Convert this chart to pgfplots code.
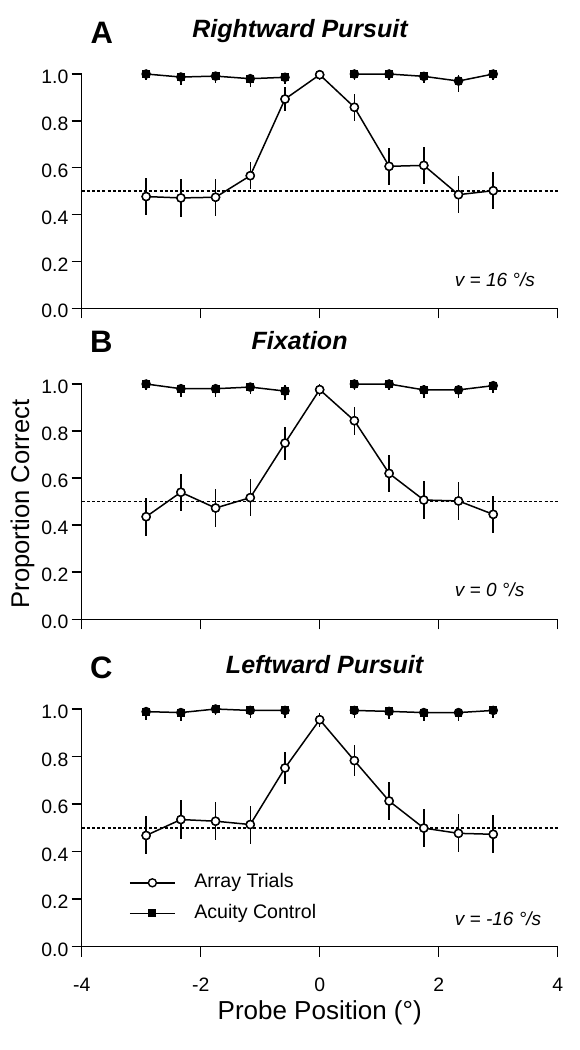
\documentclass[border=0pt]{standalone}
\usepackage{fontspec}
\setmainfont{Liberation Sans}
\usepackage{pgfplots}
\usepackage{pgfplotstable}
\pgfplotsset{compat=1.18}
% Panel A
\pgfplotstableread{
x y ep em
-2.917 0.477 0.078 0.078
-2.333 0.471 0.080 0.080
-1.75 0.474 0.078 0.078
-1.167 0.566 0.058 0.058
-0.583 0.893 0.050 0.050
0 0.997 0.003 0.022
0.583 0.858 0.058 0.058
1.167 0.606 0.078 0.078
1.75 0.610 0.078 0.078
2.333 0.485 0.080 0.080
2.917 0.502 0.080 0.080
}\arrA
\pgfplotstableread{
x y ep em
-2.917 1.000 0 0.026
-2.333 0.987 0.013 0.035
-1.75 0.991 0.009 0.030
-1.167 0.980 0.020 0.035
-0.583 0.986 0.014 0.030
}\acuAl
\pgfplotstableread{
x y ep em
0.583 1.000 0 0.026
1.167 1.000 0 0.026
1.75 0.990 0.010 0.030
2.333 0.970 0.025 0.045
2.917 1.000 0 0.026
}\acuAr
% Panel B
\pgfplotstableread{
x y ep em
-2.917 0.436 0.080 0.080
-2.333 0.540 0.078 0.078
-1.75 0.473 0.080 0.080
-1.167 0.517 0.080 0.080
-0.583 0.749 0.070 0.070
0 0.976 0.024 0.027
0.583 0.844 0.060 0.060
1.167 0.620 0.078 0.078
1.75 0.507 0.080 0.080
2.333 0.503 0.080 0.080
2.917 0.446 0.078 0.078
}\arrB
\pgfplotstableread{
x y ep em
-2.917 1.000 0 0.026
-2.333 0.980 0.020 0.035
-1.75 0.980 0.020 0.035
-1.167 0.987 0.013 0.030
-0.583 0.970 0.025 0.040
}\acuBl
\pgfplotstableread{
x y ep em
0.583 1.000 0 0.026
1.167 1.000 0 0.026
1.75 0.975 0.020 0.035
2.333 0.975 0.020 0.035
2.917 0.993 0.007 0.030
}\acuBr
% Panel C
\pgfplotstableread{
x y ep em
-2.917 0.468 0.080 0.080
-2.333 0.535 0.082 0.082
-1.75 0.528 0.080 0.080
-1.167 0.514 0.080 0.080
-0.583 0.752 0.068 0.068
0 0.955 0.030 0.030
0.583 0.783 0.066 0.066
1.167 0.613 0.078 0.078
1.75 0.499 0.080 0.080
2.333 0.477 0.080 0.080
2.917 0.473 0.080 0.080
}\arrC
\pgfplotstableread{
x y ep em
-2.917 0.989 0.011 0.035
-2.333 0.985 0.015 0.035
-1.75 1.000 0 0.026
-1.167 0.994 0.006 0.030
-0.583 0.994 0.006 0.030
}\acuCl
\pgfplotstableread{
x y ep em
0.583 0.994 0.006 0.030
1.167 0.990 0.010 0.030
1.75 0.985 0.015 0.035
2.333 0.985 0.015 0.035
2.917 0.994 0.006 0.030
}\acuCr
\begin{document}
\begin{tikzpicture}
\useasboundingbox (0pt,0pt) rectangle (289.5pt,-525pt);
\pgfplotsset{
 panel/.style={
  scale only axis, width=238pt,
  xmin=-4,xmax=4,ymin=0,ymax=1,
  axis x line=bottom, axis y line=left,
  axis line style={line width=0.75pt,-},
  tick align=outside, major tick length=5pt,
  tick style={line width=0.75pt, black},
  xtick={-4,-2,0,2,4}, xticklabels={},
  ytick={0,0.2,0.4,0.6,0.8,1.0}, yticklabels={0.0,0.2,0.4,0.6,0.8,1.0},
  yticklabel style={font=\fontsize{9.7}{11}\selectfont, yshift=-1.5pt, inner xsep=1.5pt},
  xticklabel style={font=\fontsize{9.7}{11}\selectfont, yshift=-7pt},
  clip=false,
  every axis plot/.append style={line width=0.75pt, black},
 },
 errs/.style={only marks, mark=none, forget plot,
  error bars/y dir=both, error bars/y explicit, error bars/error mark=none,
  error bars/error bar style={line width=0.75pt}},
 arr/.style={mark=*, mark options={fill=white, line width=0.7pt}, mark size=2pt},
 acu/.style={mark=square*, mark size=1.6pt},
 chance/.style={dash pattern=on 1.5pt off 1.1pt, line width=0.7pt, forget plot},
}
% ---------------- Panel A ----------------
\begin{axis}[panel, at={(40.85pt,-154.15pt)}, anchor=south west, height=117.15pt]
\addplot[chance] coordinates {(-4,0.5) (4,0.5)};
\addplot[errs] table[x=x,y=y,y error plus=ep,y error minus=em] {\arrA};
\addplot[errs] table[x=x,y=y,y error plus=ep,y error minus=em] {\acuAl};
\addplot[errs] table[x=x,y=y,y error plus=ep,y error minus=em] {\acuAr};
\addplot[arr] table[x=x,y=y] {\arrA};
\addplot[acu] table[x=x,y=y] {\acuAl};
\addplot[acu] table[x=x,y=y] {\acuAr};
\node[anchor=west, inner xsep=0pt, font=\itshape\fontsize{9.5}{11}\selectfont] at (axis cs:2.266,0.124) {v = 16 °/s};
\end{axis}
% ---------------- Panel B ----------------
\begin{axis}[panel, at={(40.85pt,-309.65pt)}, anchor=south west, height=117.65pt]
\addplot[chance] coordinates {(-4,0.5) (4,0.5)};
\addplot[errs] table[x=x,y=y,y error plus=ep,y error minus=em] {\arrB};
\addplot[errs] table[x=x,y=y,y error plus=ep,y error minus=em] {\acuBl};
\addplot[errs] table[x=x,y=y,y error plus=ep,y error minus=em] {\acuBr};
\addplot[arr] table[x=x,y=y] {\arrB};
\addplot[acu] table[x=x,y=y] {\acuBl};
\addplot[acu] table[x=x,y=y] {\acuBr};
\node[anchor=west, inner xsep=0pt, font=\itshape\fontsize{9.5}{11}\selectfont] at (axis cs:2.266,0.125) {v = 0 °/s};
\end{axis}
% ---------------- Panel C ----------------
\begin{axis}[panel, at={(40.85pt,-473.35pt)}, anchor=south west, height=118.85pt,
  xticklabels={-4,-2,0,2,4},
  xlabel={Probe Position (°)},
  xlabel style={font=\fontsize{13}{15}\selectfont, at={(axis description cs:0.5,-0.279)}, anchor=center},
  legend style={draw=none, fill=none, at={(axis cs:-3.31,0.2045)}, anchor=west,
    font=\fontsize{9.8}{11}\selectfont, row sep=5.3pt, column sep=9.3pt,
    nodes={inner sep=0pt, text height=7.5pt, text depth=2.5pt}},
  legend cell align=left,
  legend image code/.code={\draw[mark repeat=2,mark phase=2,#1] plot coordinates {(0pt,0pt) (11.25pt,0pt) (22.5pt,0pt)};},
]
\addplot[chance] coordinates {(-4,0.5) (4,0.5)};
\addplot[errs] table[x=x,y=y,y error plus=ep,y error minus=em] {\arrC};
\addplot[errs] table[x=x,y=y,y error plus=ep,y error minus=em] {\acuCl};
\addplot[errs] table[x=x,y=y,y error plus=ep,y error minus=em] {\acuCr};
\addplot[arr] table[x=x,y=y] {\arrC};
\addlegendentry{Array Trials}
\addplot[acu] table[x=x,y=y] {\acuCl};
\addlegendentry{Acuity Control}
\addplot[acu, forget plot] table[x=x,y=y] {\acuCr};
\node[anchor=west, inner xsep=0pt, font=\itshape\fontsize{9.5}{11}\selectfont] at (axis cs:2.266,0.117) {v = -16 °/s};
\end{axis}
% ---------------- Titles and labels ----------------
\node[font=\bfseries\fontsize{15.5}{17}\selectfont] at (50.85pt,-16.25pt) {A};
\node[font=\bfseries\fontsize{15.5}{17}\selectfont] at (50.6pt,-170.85pt) {B};
\node[font=\bfseries\fontsize{15.5}{17}\selectfont] at (50.6pt,-333.75pt) {C};
\node[anchor=base, font=\bfseries\itshape\fontsize{12.5}{14}\selectfont] at (150pt,-18.65pt) {Rightward Pursuit};
\node[anchor=base, font=\bfseries\itshape\fontsize{12.5}{14}\selectfont] at (149.8pt,-174.65pt) {Fixation};
\node[anchor=base, font=\bfseries\itshape\fontsize{12.5}{14}\selectfont] at (162.3pt,-336.65pt) {Leftward Pursuit};
\node[rotate=90, font=\fontsize{12.8}{15}\selectfont] at (11.2pt,-252pt) {Proportion Correct};
\end{tikzpicture}
\end{document}
